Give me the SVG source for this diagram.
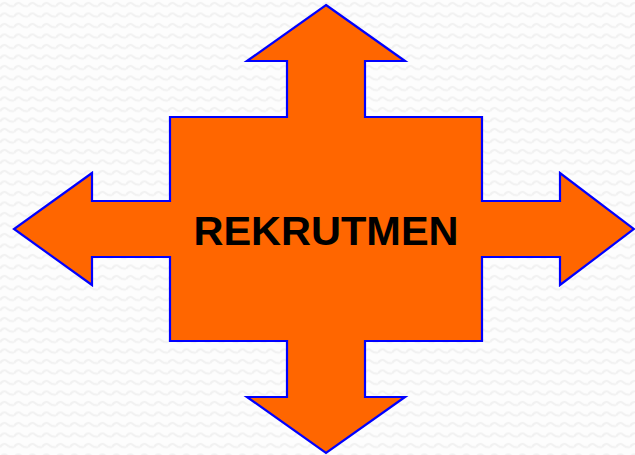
<svg xmlns="http://www.w3.org/2000/svg" width="635" height="455" viewBox="0 0 635 455">
  <defs>
    <pattern id="bg" width="14" height="10.5" patternUnits="userSpaceOnUse">
      <rect width="14" height="10.5" fill="#fdfdfd"/>
      <path d="M0 6 Q3.5 1 7 4 Q10.5 7 14 6" fill="none" stroke="#f1f1f1" stroke-width="2"/>
    </pattern>
    <style>
      .shape { fill: #ff6600; stroke: #0000ff; stroke-width: 2.2; stroke-linejoin: miter; }
      .label { font-family: "Liberation Sans", Arial, sans-serif; font-weight: bold; font-size: 41.5px; fill: #000000; }
    </style>
  </defs>
  <rect width="635" height="455" fill="url(#bg)"/>
  <g id="rekrutmen">
    <polygon class="shape" points="326,5 405,61 365,61 365,117 482,117 482,201 560,201 560,173 634,229 560,285 560,257 482,257 482,341 365,341 365,397 405,397 326,453 247,397 287,397 287,341 170,341 170,257 92,257 92,285 14,229 92,173 92,201 170,201 170,117 287,117 287,61 247,61"/>
    <text class="label" x="326" y="245" text-anchor="middle">REKRUTMEN</text>
  </g>
  <g id="connectors"/>
</svg>
